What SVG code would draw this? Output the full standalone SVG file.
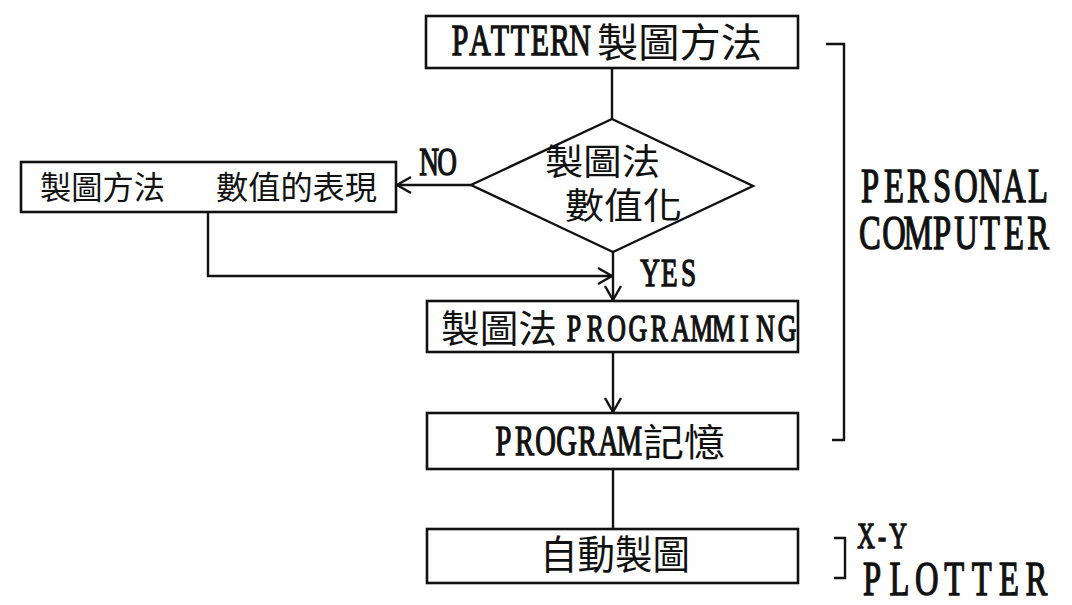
<svg xmlns="http://www.w3.org/2000/svg" width="1072" height="605" viewBox="0 0 1072 605">
  <style>
    .box { fill: #fff; stroke: #111; stroke-width: 2.6; }
    .line { fill: none; stroke: #111; stroke-width: 2.4; }
    /* typewriter-style Latin: condensed serif letters on a fixed pitch */
    .lat { font-family: "Liberation Serif", "DejaVu Serif", serif; fill: #111; stroke: #111; stroke-width: 1.4; text-anchor: middle; }
    .cjk { font-family: "Noto Sans CJK TC", "Noto Sans CJK SC", sans-serif; fill: #111; }
  </style>
  <defs>
    <marker id="arrow" viewBox="0 0 20 20" refX="18" refY="10" markerWidth="20" markerHeight="20" markerUnits="userSpaceOnUse" orient="auto">
      <path d="M4,2 L18,10 L4,18" fill="none" stroke="#111" stroke-width="2.4"/>
    </marker>
  </defs>
  <rect width="1072" height="605" fill="#fff"/>

  <!-- connectors -->
  <g id="connectors">
    <line class="line" x1="612" y1="68" x2="612" y2="119"/>
    <line class="line" x1="471" y1="185" x2="397" y2="185" marker-end="url(#arrow)"/>
    <polyline class="line" points="208,212 208,276 612,276" marker-end="url(#arrow)"/>
    <line class="line" x1="613" y1="252" x2="613" y2="300" marker-end="url(#arrow)"/>
    <line class="line" x1="613" y1="352" x2="613" y2="412" marker-end="url(#arrow)"/>
    <line class="line" x1="613" y1="469" x2="613" y2="529"/>
    <text class="lat" transform="translate(429,175) scale(0.68,1)" x="0 26.5" y="0" font-size="40">NO</text>
    <text class="lat" transform="translate(650,286) scale(0.68,1)" x="0 28.4 56.8" y="0" font-size="40">YES</text>
  </g>

  <!-- start -->
  <g id="pattern">
    <rect class="box" x="426" y="16" width="372" height="52"/>
    <text class="lat" transform="translate(460,55) scale(0.68,1)" x="0 29.4 58.8 88.2 117.6 147.1 176.5" y="0" font-size="44">PATTERN</text>
    <text class="cjk" x="597" y="57" font-size="40" textLength="165" lengthAdjust="spacingAndGlyphs">製圖方法</text>
  </g>

  <!-- decision -->
  <g id="decision">
    <polygon points="612,119 753,186 613,252 471,185" fill="#fff" stroke="#111" stroke-width="2.4"/>
    <text class="cjk" x="545" y="175" font-size="36" textLength="115" lengthAdjust="spacingAndGlyphs">製圖法</text>
    <text class="cjk" x="565" y="219" font-size="36" textLength="117" lengthAdjust="spacingAndGlyphs">數值化</text>
  </g>

  <!-- NO branch -->
  <g id="numeric">
    <rect class="box" x="21" y="162" width="375" height="50"/>
    <text class="cjk" x="40" y="199" font-size="32" textLength="125" lengthAdjust="spacingAndGlyphs">製圖方法</text>
    <text class="cjk" x="216" y="199" font-size="32" textLength="161" lengthAdjust="spacingAndGlyphs">數值的表現</text>
  </g>

  <g id="programming">
    <rect class="box" x="427" y="301" width="371" height="51"/>
    <text class="cjk" x="441" y="342" font-size="38" textLength="116" lengthAdjust="spacingAndGlyphs">製圖法</text>
    <text class="lat" transform="translate(574,341) scale(0.68,1)" x="0 31.3 62.6 94 125.3 156.6 187.9 219.3 250.6 281.9 313.2" y="0" font-size="38">PROGRAMMING</text>
  </g>

  <g id="memory">
    <rect class="box" x="427" y="413" width="371" height="56"/>
    <text class="lat" transform="translate(503.5,455) scale(0.68,1)" x="0 30.9 61.8 92.6 123.5 154.4 185.3" y="0" font-size="42">PROGRAM</text>
    <text class="cjk" x="643" y="456" font-size="38" textLength="82" lengthAdjust="spacingAndGlyphs">記憶</text>
  </g>

  <g id="plot">
    <rect class="box" x="427" y="529" width="371" height="54"/>
    <text class="cjk" x="540" y="569" font-size="40" textLength="150" lengthAdjust="spacingAndGlyphs">自動製圖</text>
  </g>

  <!-- hardware brackets -->
  <g id="personal-computer">
    <polyline class="line" points="826,44 844,44 844,440 832,440"/>
    <text class="lat" transform="translate(870,202) scale(0.68,1)" x="0 35.3 70.6 105.9 141.2 176.5 211.8 247.1" y="0" font-size="48">PERSONAL</text>
    <text class="lat" transform="translate(870,249) scale(0.68,1)" x="0 35.3 70.6 105.9 141.2 176.5 211.8 247.1" y="0" font-size="48">COMPUTER</text>
  </g>

  <g id="xy-plotter">
    <polyline class="line" points="834,538 845,538 845,578 834,578"/>
    <text class="lat" transform="translate(866,548) scale(0.68,1)" x="0 23.5 47.1" y="0" font-size="36">X-Y</text>
    <text class="lat" transform="translate(872,595) scale(0.68,1)" x="0 40.3 80.6 120.9 161.2 201.5 241.8" y="0" font-size="48">PLOTTER</text>
  </g>
</svg>
